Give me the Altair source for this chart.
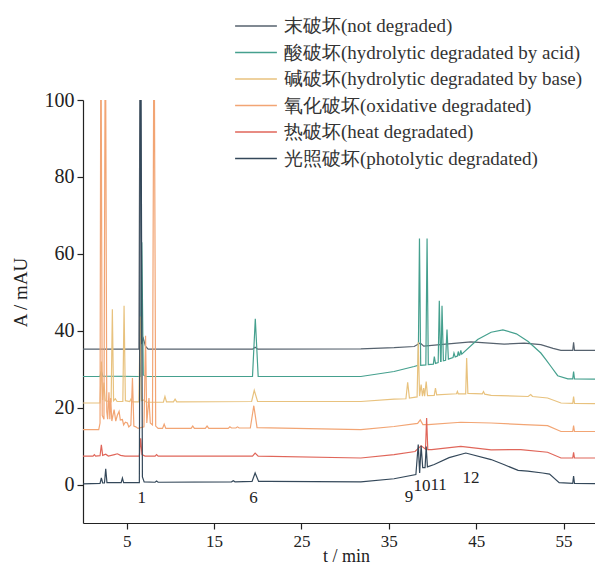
import altair as alt
import pandas as pd

SERIES = [
    "末破坏(not degraded)",
    "酸破坏(hydrolytic degradated by acid)",
    "碱破坏(hydrolytic degradated by base)",
    "氧化破坏(oxidative degradated)",
    "热破坏(heat degradated)",
    "光照破坏(photolytic degradated)",
]
COLORS = ["#56626e", "#45a08e", "#e8c27e", "#f2a574", "#e0665a", "#34485a"]

NOT_T = [0, 6.4, 6.55, 6.7, 6.9, 7.15, 7.45, 19.4, 19.7, 20.0, 31.8, 35.6, 37.9, 38.6, 39.0,
         41.5, 44.4, 48.2, 50.5, 52.4, 53.8, 54.7, 56.05, 56.15, 56.25, 59.6]
NOT_A = [35.2, 35.2, 130, 36.5, 38.0, 36.0, 35.2, 35.2, 35.7, 35.2, 35.3, 35.6, 35.9, 36.8, 36.0,
         36.5, 37.1, 36.5, 36.8, 36.4, 35.4, 34.9, 34.9, 37.0, 34.9, 34.9]

ACID_T = [0, 1.95, 2.1, 2.25, 6.55, 6.73, 6.9, 7.2, 19.4, 19.72, 20.05, 31.8, 35.6, 37.9, 38.37,
          38.51, 38.65, 39.24, 39.38, 39.52, 40.1, 40.21, 40.34, 40.65, 40.78, 40.93, 40.98,
          41.09, 41.25, 41.5, 41.66, 41.82, 42.35, 42.46, 42.6, 42.85, 42.95, 43.05, 43.14,
          43.24, 43.35, 45.17, 46.71, 48.06, 49.6, 50.95, 52.4, 52.98, 53.56, 54.33, 55.49,
          56.05, 56.15, 56.25, 59.6]
ACID_A = [28.1, 28.1, 29.5, 28.2, 28.1, 63, 28.5, 28.1, 28.1, 43.1, 28.1, 28.1, 29.4, 30.7, 31.0,
          64, 31.0, 31.1, 64, 31.2, 31.3, 33.3, 31.5, 31.7, 47.8, 32.0, 32.0,
          46.5, 32.2, 32.3, 40.3, 32.6, 33.0, 34.2, 33.2, 33.4, 34.6, 33.6, 33.7,
          34.9, 33.9, 37.7, 39.6, 40.2, 39.2, 37.2, 34.2, 32.5, 30.7, 28.3, 27.5,
          27.5, 29.4, 27.5, 27.4]

BASE_T = [0, 1.95, 2.1, 2.25, 2.4, 2.55, 3.22, 3.36, 3.5, 3.7, 3.9, 4.56, 4.7, 4.85, 5.35, 5.48,
          5.62, 6.4, 6.54, 6.68, 6.97, 7.25, 9.2, 9.38, 9.56, 10.35, 10.54, 10.73, 19.3, 19.6,
          19.98, 31.8, 35.6, 36.96, 37.16, 37.36, 38.24, 38.37, 38.52, 38.7, 38.85, 38.99,
          39.1, 39.28, 39.43, 40.2, 40.34, 40.48, 42.75, 42.85, 42.95, 43.8, 43.91, 44.05,
          45.7, 45.84, 45.98, 46.71, 50.95, 51.24, 51.45, 53.17, 54.71, 56.05, 56.15, 56.25, 59.6]
BASE_A = [21.2, 21.2, 32, 22, 26.5, 21.8, 21.5, 45.6, 21.8, 22.3, 21.6, 21.6, 46.5, 21.8, 21.6, 22.2,
          21.5, 21.5, 43.7, 21.8, 22.0, 21.4, 21.4, 22.9, 21.5, 21.5, 22.2, 21.5, 21.6, 24.5,
          21.6, 21.6, 22.2, 22.3, 26.6, 22.5, 22.8, 37, 23.0, 26.0, 23.0, 25.1,
          23.0, 26.8, 23.1, 23.2, 25.1, 23.3, 23.6, 24.2, 23.6, 23.6, 32.9, 23.7,
          23.6, 24.2, 23.5, 23.2, 22.9, 23.4, 22.9, 22.5, 21.2, 21.1, 22.9, 21.1, 21.0]

OXI_T = [0, 1.8, 1.95, 2.05, 2.2, 2.4, 2.56, 2.72, 2.82, 2.97, 3.07, 3.17, 3.3, 3.56, 3.75, 3.93,
         4.13, 4.27, 4.51, 4.65, 4.85, 5.08, 5.24, 5.48, 5.66, 5.82, 6.04, 6.3, 6.98, 7.16, 7.3,
         7.55, 7.7, 7.95, 8.13, 8.32, 8.6, 9.1, 9.29, 9.48, 12.37, 12.56, 12.75, 14.0, 14.2,
         14.4, 16.62, 16.81, 17.0, 17.5, 17.68, 17.87, 19.15, 19.55, 19.92, 31.8, 35.6, 38.3,
         38.6, 38.9, 39.5, 43.24, 46.71, 50.47, 53.17, 54.71, 56.05, 56.15, 56.25, 59.6]
OXI_A = [14.3, 14.3, 16, 130, 18, 17, 130, 19, 17, 24, 17, 22.5, 16.5, 19.5, 16.5, 18,
         19, 16.8, 16.9, 15.5, 16.2, 16, 15.0, 15.5, 27.7, 15.2, 15.0, 14.6, 15, 38.7, 16,
         22.5, 16, 15.5, 130, 15.2, 14.6, 14.6, 15.7, 14.6, 14.6, 15.2, 14.6, 14.6, 15.2,
         14.6, 14.6, 15.0, 14.7, 14.7, 15.0, 14.7, 14.7, 20.5, 14.8, 14.3, 15.1, 15.9,
         16.8, 15.6, 15.6, 16.2, 16.0, 15.6, 15.3, 13.8, 13.8, 15.3, 13.8, 13.8]

HEAT_T = [0, 1.15, 1.3, 1.45, 1.95, 2.1, 2.25, 2.6, 2.9, 3.6, 3.93, 4.3, 4.8, 6.45, 6.6, 6.75,
          7.1, 8.25, 8.42, 8.6, 19.4, 19.7, 20.05, 31.8, 35.6, 38.0, 38.7, 39.2, 39.33, 39.46,
          39.9, 43.24, 46.71, 50.1, 53.17, 54.71, 56.05, 56.15, 56.25, 59.6]
HEAT_A = [7.4, 7.4, 7.8, 7.4, 7.5, 10.3, 7.6, 7.9, 7.4, 7.8, 8.0, 7.6, 7.4, 7.4, 12, 7.8,
          7.4, 7.4, 7.8, 7.4, 7.4, 8.2, 7.4, 6.9, 7.8, 8.6, 10.1, 9.2, 17.3, 9.1,
          9.1, 9.9, 9.0, 9.1, 8.4, 6.9, 6.9, 8.4, 6.9, 6.9]

PHOTO_T = [0, 1.95, 2.1, 2.25, 2.46, 2.6, 2.74, 4.37, 4.51, 4.65, 6.45, 6.6, 6.8, 7.0, 8.25, 8.42,
           8.6, 17.0, 17.2, 17.4, 19.35, 19.7, 20.1, 21.2, 31.8, 35.6, 38.1, 38.37, 38.53, 38.7,
           38.88, 39.15, 39.28, 39.42, 40.2, 41.9, 43.81, 46.71, 48.16, 49.8, 50.9, 52.6, 53.4,
           54.5, 56.05, 56.15, 56.25, 59.6]
PHOTO_A = [0.2, 0.3, 1.7, 0.4, 0.4, 4.1, 0.5, 0.5, 1.7, 0.5, 0.5, 130, 2.0, 0.7, 0.6, 0.9,
           0.6, 0.7, 1.0, 0.7, 0.8, 3.0, 0.8, 0.8, 0.7, 1.5, 2.6, 10.4, 3.0, 10.1,
           4.4, 4.4, 9.9, 4.6, 5.2, 7.0, 8.2, 6.5, 5.2, 3.7, 3.5, 3.0, 2.7,
           0.5, 0.3, 2.2, 0.3, 0.2]

PEAK_LABELS = ["1", "6", "9", "10", "11", "12"]
PEAK_T = [6.72, 19.5, 37.3, 38.8, 40.7, 44.4]
PEAK_Y = [-3.6, -3.6, -3.2, -0.4, -0.2, 1.8]

X_TICKS = [5, 15, 25, 35, 45, 55]
Y_TICKS = [0, 20, 40, 60, 80, 100]

SERIF = "Liberation Serif"

ts_all = [NOT_T, ACID_T, BASE_T, OXI_T, HEAT_T, PHOTO_T]
as_all = [NOT_A, ACID_A, BASE_A, OXI_A, HEAT_A, PHOTO_A]
rows = []
for name, ts, ys in zip(SERIES, ts_all, as_all):
    for t, a in zip(ts, ys):
        rows.append({"t": t, "A": a, "series": name})
df = pd.DataFrame(rows)

x_enc = alt.X(
    "t:Q",
    scale=alt.Scale(domain=[0, 58.6], nice=False, zero=False),
    axis=alt.Axis(
        values=X_TICKS, title="t / min", grid=False,
        labelFont=SERIF, labelFontSize=17, labelColor="#222", labelPadding=4,
        tickSize=6, tickColor="#222", tickWidth=1.2,
        domainColor="#222", domainWidth=1.2,
        titleFont=SERIF, titleFontSize=18, titleFontWeight="normal", titleColor="#222",
        titleX=263, titleY=33, titleBaseline="middle",
    ),
)
y_enc = alt.Y(
    "A:Q",
    scale=alt.Scale(domain=[-10, 100], nice=False, zero=False),
    axis=alt.Axis(
        values=Y_TICKS, title="A / mAU", grid=False,
        labelFont=SERIF, labelFontSize=20, labelColor="#222", labelPadding=3,
        tickSize=6, tickColor="#222", tickWidth=1.2,
        domainColor="#222", domainWidth=1.2,
        titleFont=SERIF, titleFontSize=19, titleFontWeight="normal", titleColor="#222",
        titleX=-63, titleY=192, titleBaseline="middle",
    ),
)
color_enc = alt.Color(
    "series:N",
    sort=SERIES,
    scale=alt.Scale(domain=SERIES, range=COLORS),
    legend=alt.Legend(
        title=None, orient="none", legendX=161, legendY=-86,
        symbolType="M-1.9,0H1.9", symbolSize=484, symbolStrokeWidth=1.5,
        labelFont=SERIF, labelFontSize=19, labelColor="#333", labelOffset=16,
        labelLimit=450, rowPadding=4.5, padding=0,
    ),
)

layers = []
for name in SERIES:
    layers.append(
        alt.Chart(df)
        .transform_filter(alt.datum.series == name)
        .mark_line(strokeWidth=1.2, clip=True)
        .encode(x=x_enc, y=y_enc, color=color_enc)
    )

labels_df = pd.DataFrame({"label": PEAK_LABELS, "t": PEAK_T, "A": PEAK_Y})
text_layer = alt.Chart(labels_df).mark_text(
    font=SERIF, fontSize=17, baseline="middle", align="center", color="#222"
).encode(x="t:Q", y="A:Q", text="label:N")

chart = (
    alt.layer(*layers, text_layer)
    .properties(
        width=512, height=423,
        autosize=alt.AutoSizeParams(type="none"),
        padding={"left": 75, "top": 92, "right": 0, "bottom": 43},
        background="white",
    )
    .configure_view(stroke=None)
)

chart.save("out.html", embed_options={"renderer": "svg", "actions": False})
